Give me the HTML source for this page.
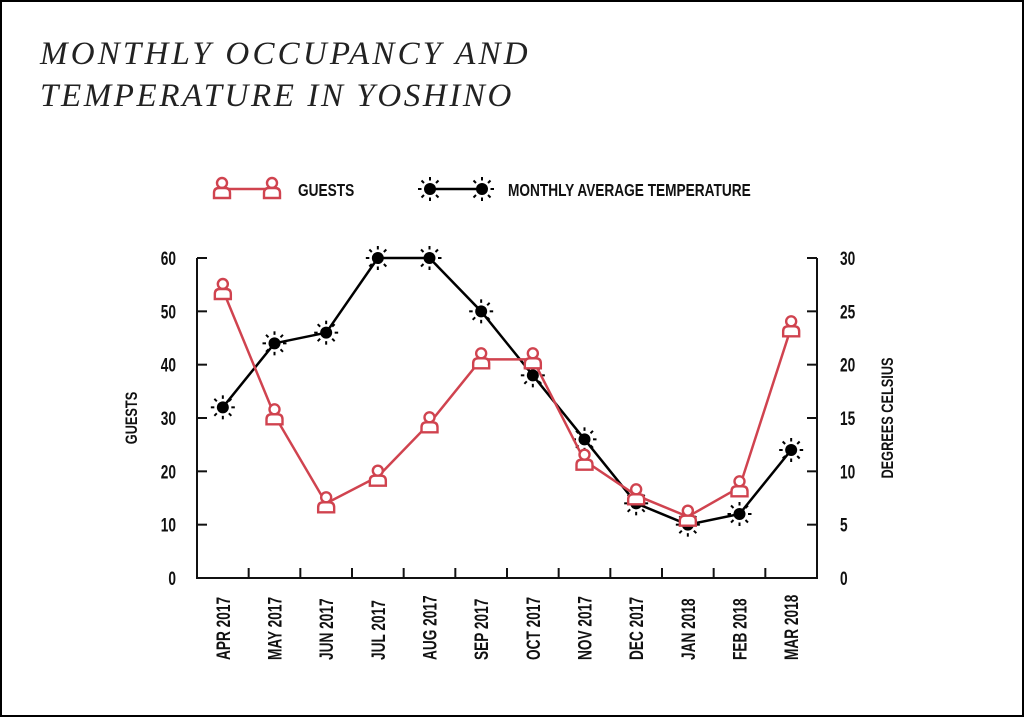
<!DOCTYPE html>
<html><head><meta charset="utf-8">
<style>
html,body{margin:0;padding:0;background:#fff;}
svg{display:block;}
.t{font-family:"Liberation Sans",sans-serif;font-weight:bold;fill:#111;}
</style></head>
<body>
<svg id="s" width="1024" height="717" xmlns="http://www.w3.org/2000/svg">
<rect x="1" y="1" width="1022" height="715" fill="#fff" stroke="#000" stroke-width="2"/>
<text x="40" y="64" font-family="Liberation Serif,serif" font-style="italic" font-size="33" letter-spacing="3.2" fill="#222">MONTHLY OCCUPANCY AND</text>
<text x="40" y="106" font-family="Liberation Serif,serif" font-style="italic" font-size="33" letter-spacing="2.6" fill="#222">TEMPERATURE IN YOSHINO</text>
<g id="g"></g>
</svg>
<script>
var g=document.getElementById('g'),h='';
var L=197,R=817,B=578,T=258,w=(R-L)/12;
function cx(i){return L+w/2+i*w;}
function yg(v){return B-v*(B-T)/60;}
function yt(v){return B-v*(B-T)/30;}
function txt(x,y,s,size,anchor,extra,sx){return '<g transform="translate('+x+','+y+')'+(extra||'')+'"><text class="t" transform="scale('+(sx||0.72)+',1)" font-size="'+size+'" text-anchor="'+(anchor||'start')+'">'+s+'</text></g>';}
h+='<path d="M'+L+' '+T+'V'+B+'H'+R+'V'+T+'" fill="none" stroke="#111" stroke-width="2"/>';
for(var k=0;k<=6;k++){var y=yg(k*10);h+='<line x1="'+L+'" x2="'+(L+10)+'" y1="'+y+'" y2="'+y+'" stroke="#111" stroke-width="2"/>';h+=txt(176,y+7,k*10,19,'end');}
for(var k=0;k<=6;k++){var y=yt(k*5);h+='<line x1="'+(R-10)+'" x2="'+R+'" y1="'+y+'" y2="'+y+'" stroke="#111" stroke-width="2"/>';h+=txt(840,y+7,k*5,19,'start');}
for(var i=1;i<12;i++){var x=L+i*w;h+='<line x1="'+x+'" x2="'+x+'" y1="'+(B-10)+'" y2="'+B+'" stroke="#111" stroke-width="2"/>';}
var m=['APR 2017','MAY 2017','JUN 2017','JUL 2017','AUG 2017','SEP 2017','OCT 2017','NOV 2017','DEC 2017','JAN 2018','FEB 2018','MAR 2018'];
for(var i=0;i<12;i++){h+=txt(cx(i)+7,660,m[i],19,'start',' rotate(-90)');}
h+=txt(137,418,'GUESTS',17,'middle',' rotate(-90)',0.75);
h+=txt(893,418,'DEGREES CELSIUS',17,'middle',' rotate(-90)',0.75);
var gv=[54,30.5,14,19,29,41,41,22,15.5,11.5,17,47];
var tv=[16,22,23,30,30,25,19,13,7,5,6,12];
function sun(x,y){var s='<circle cx="'+x+'" cy="'+y+'" r="6" fill="#000"/>';for(var a=0;a<8;a++){var r=a*Math.PI/4,c=Math.cos(r),d=Math.sin(r);s+='<line x1="'+(x+c*8.5)+'" y1="'+(y+d*8.5)+'" x2="'+(x+c*12)+'" y2="'+(y+d*12)+'" stroke="#000" stroke-width="2"/>';}return s;}
function person(x,y){return '<circle cx="'+x+'" cy="'+(y-6)+'" r="5" fill="#fff" stroke="#d0434f" stroke-width="2.4"/><path d="M'+(x-8)+' '+(y+9)+'V'+(y+4)+'Q'+(x-8)+' '+(y-1)+' '+(x-3)+' '+(y-1)+'H'+(x+3)+'Q'+(x+8)+' '+(y-1)+' '+(x+8)+' '+(y+4)+'V'+(y+9)+'Z" fill="#fff" stroke="#d0434f" stroke-width="2.4"/>';}
var p='',q='';
for(var i=0;i<12;i++){p+=(i?'L':'M')+cx(i)+' '+yt(tv[i]);q+=(i?'L':'M')+cx(i)+' '+yg(gv[i]);}
h+='<path d="'+p+'" fill="none" stroke="#000" stroke-width="2.5"/>';
for(var i=0;i<12;i++)h+=sun(cx(i),yt(tv[i]));
h+='<path d="'+q+'" fill="none" stroke="#d0434f" stroke-width="2.5"/>';
for(var i=0;i<12;i++)h+=person(cx(i),yg(gv[i]));
h+='<line x1="222" x2="272" y1="189" y2="189" stroke="#d0434f" stroke-width="2.5"/>'+person(222,189)+person(272,189);
h+=txt(298,196,'GUESTS',18,'start','',0.76);
h+='<line x1="430" x2="482" y1="189" y2="189" stroke="#000" stroke-width="2.5"/>'+sun(430,189)+sun(482,189);
h+=txt(508,196,'MONTHLY AVERAGE TEMPERATURE',18,'start','',0.76);
g.innerHTML=h;
</script>
</body></html>
